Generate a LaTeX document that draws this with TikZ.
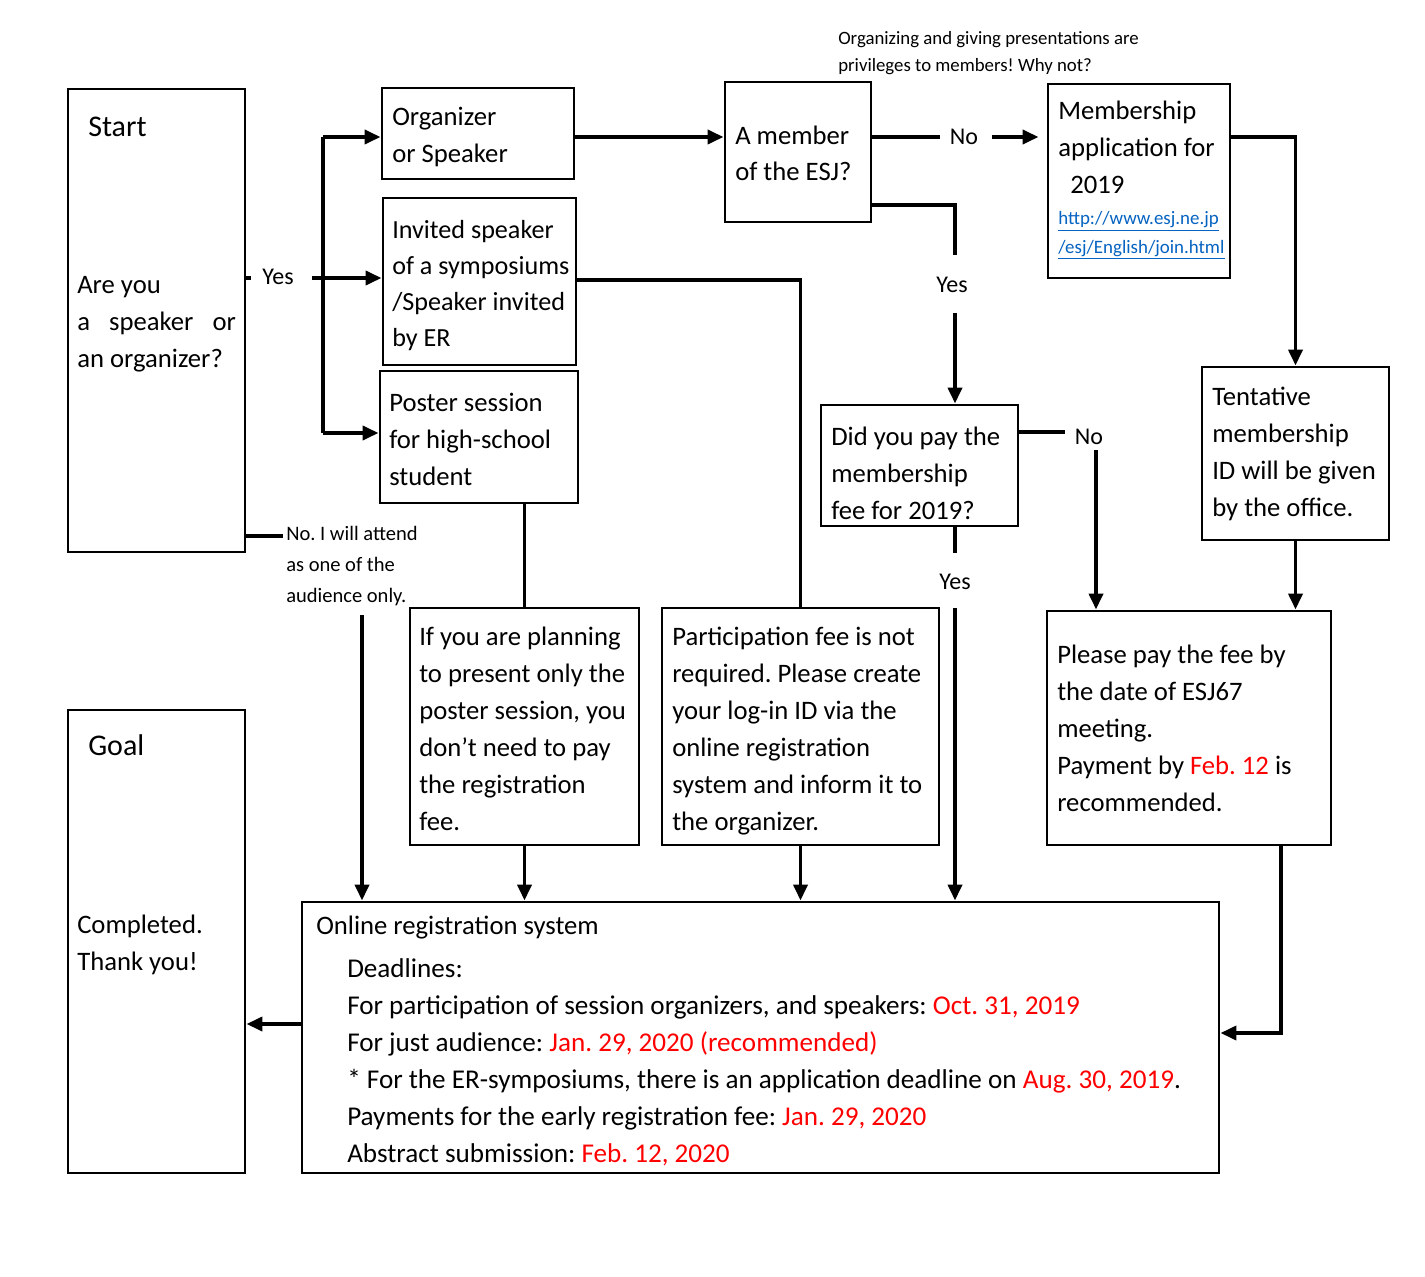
\documentclass[tikz,border=0pt]{standalone}
\usepackage{fontspec}
\setmainfont{Carlito}
\usetikzlibrary{arrows.meta,fit}
\definecolor{lnk}{RGB}{5,99,193}
\definecolor{rd}{RGB}{255,0,0}
\newcommand\myfs[2]{\fontsize{#1}{#2}\selectfont}
\frenchspacing
\begin{document}
\begin{tikzpicture}[x=0.75pt,y=-0.75pt,
  box/.style={draw,line width=2.2pt,inner sep=0pt},
  ln/.style={line width=2.8pt},
  arr/.style={line width=2.8pt,-{Triangle[length=12pt,width=10.5pt]}},
  txt/.style={inner sep=0pt,anchor=base west,align=left,font=\frenchspacing\myfs{20}{27.75}},
  big/.style={inner sep=0pt,anchor=base west,font=\myfs{22.5}{28}},
  lab/.style={inner sep=0pt,font=\myfs{18}{22}},
  small/.style={inner sep=0pt,anchor=base west,align=left,font=\frenchspacing\myfs{15.4}{23.25}},
  note/.style={inner sep=0pt,anchor=base west,align=left,font=\frenchspacing\myfs{14.1}{20.25}},
]
\fill[white] (0,0) rectangle (1425,1277);
\useasboundingbox (0,0) rectangle (1425,1277);

% boxes
\node[box,fit={(68,89)(245,552)}] (start) {};
\node[box,fit={(68,710)(245,1173)}] (goal) {};
\node[box,fit={(382,88)(574,179)}] (org) {};
\node[box,fit={(383,198)(576,365)}] (inv) {};
\node[box,fit={(380,371)(578,503)}] (poster) {};
\node[box,fit={(725,82)(871,222)}] (member) {};
\node[box,fit={(1048,84)(1230,278)}] (memb) {};
\node[box,fit={(821,405)(1018,526)}] (didpay) {};
\node[box,fit={(1202,367)(1389,540)}] (tent) {};
\node[box,fit={(410,608)(639,845)}] (ifyou) {};
\node[box,fit={(662,608)(939,845)}] (part) {};
\node[box,fit={(1047,611)(1331,845)}] (pay) {};
\node[box,fit={(302,902)(1219,1173)}] (online) {};

% texts (anchored at the baseline of the last line)
\node[big] (startT) at (88,137) {Start};
\node[txt] (startQ) at (77,367) {Are you\\\makebox[119pt][s]{a speaker or}\\an organizer?};
\node[big] (goalT) at (88,755) {Goal};
\node[txt] (goalQ) at (77,970) {Completed.\\Thank you!};
\node[txt] (orgT) at (392,163) {Organizer\\or Speaker};
\node[txt,font=\frenchspacing\myfs{19.6}{27}] (invT) at (392,346) {Invited speaker\\of a symposiums\\/Speaker invited\\by ER};
\node[txt] (posterT) at (389,485) {Poster session\\for high-school\\student};
\node[txt] (memberT) at (735,181) {A member\\of the ESJ?};
\node[txt] (membT) at (1058,194) {Membership\\application for\\\hspace*{9pt}2019};
\node[note,font=\frenchspacing\myfs{14.2}{21},text=lnk] (link) at (1058,253) {\underline{http://www.esj.ne.jp}\\\underline{/esj/English/join.html}};
\node[note] (noteT) at (838,72) {Organizing and giving presentations are\\privileges to members! Why not?};
\node[txt] (didT) at (831,519) {Did you pay the\\membership\\fee for 2019?};
\node[txt] (tentT) at (1212,516) {Tentative\\membership\\ID will be given\\by the office.};
\node[txt] (ifT) at (419,830) {If you are planning\\to present only the\\poster session, you\\don’t need to pay\\the registration\\fee.};
\node[txt] (partT) at (672,830) {Participation fee is not\\required. Please create\\your log-in ID via the\\online registration\\system and inform it to\\the organizer.};
\node[txt] (payT) at (1057,811) {Please pay the fee by\\the date of ESJ67\\meeting.\\Payment by \textcolor{rd}{Feb. 12} is\\recommended.};
\node[txt] (onT) at (316,934) {Online registration system};
\node[txt,font=\frenchspacing\myfs{20.35}{27.7}] (onL) at (347,1162) {Deadlines:\\For participation of session organizers, and speakers: \textcolor{rd}{Oct. 31, 2019}\\For just audience: \textcolor{rd}{Jan. 29, 2020 (recommended)}\\* For the ER-symposiums, there is an application deadline on \textcolor{rd}{Aug. 30, 2019}.\\Payments for the early registration fee: \textcolor{rd}{Jan. 29, 2020}\\Abstract submission: \textcolor{rd}{Feb. 12, 2020}};

% labels
\node[lab] (yes1) at (278,277) {Yes};
\node[small] (noAtt) at (286,602) {No. I will attend\\as one of the\\audience only.};
\node[lab] (no1) at (964,137) {No};
\node[lab] (yes2) at (952,285) {Yes};
\node[lab] (no2) at (1089,437) {No};
\node[lab] (yes3) at (955,582) {Yes};

% coordinates
\coordinate (t1) at (323,137);
\coordinate (t2) at (323,433);
\coordinate (t3) at (312,278);
\coordinate (ys) at (251,278);
\coordinate (na) at (283,536);
\coordinate (na2) at (362,615);
\coordinate (m1) at (0,137);
\coordinate (n1a) at (940,137);
\coordinate (n1b) at (992,137);
\coordinate (y2a) at (955,205);
\coordinate (y2b) at (955,255);
\coordinate (y2c) at (955,313);
\coordinate (n2a) at (1065,432);
\coordinate (n2b) at (1096,450);
\coordinate (y3a) at (955,553);
\coordinate (y3b) at (955,608);
\coordinate (p1) at (1281,1033);
\coordinate (ip) at (0,280);
\coordinate (og) at (0,1024);

% connectors
\draw[ln] (start.east |- ys) -- (ys);
\draw[arr] (t3) -- (inv.west |- t3);
\draw[ln] (t1) -- (t2);
\draw[arr] (t1) -- (org.west |- t1);
\draw[arr] (t2) -- (poster.west |- t2);
\draw[ln] (start.east |- na) -- (na);
\draw[arr] (na2) -- (na2 |- online.north);
\draw[arr] (org.east |- m1) -- (member.west |- m1);
\draw[ln] (member.east |- m1) -- (n1a);
\draw[arr,shorten >=6pt] (n1b) -- (memb.west |- n1b);
\draw[ln] (member.east |- y2a) -- (y2a) -- (y2b);
\draw[arr] (y2c) -- (y2c |- didpay.north);
\draw[arr] (memb.east |- m1) -| (tent.north);
\draw[ln] (didpay.east |- n2a) -- (n2a);
\draw[arr] (n2b) -- (n2b |- pay.north);
\draw[ln] (didpay.south -| y3a) -- (y3a);
\draw[arr] (y3b) -- (y3b |- online.north);
\draw[arr] (tent.south) -- (tent.south |- pay.north);
\draw[arr] (pay.south -| p1) |- (online.east |- p1);
\draw[ln] (inv.east |- ip) -| (part.north);
\draw[ln] (poster.south -| ifyou.north) -- (ifyou.north);
\draw[arr] (ifyou.south) -- (ifyou.south |- online.north);
\draw[arr] (part.south) -- (part.south |- online.north);
\draw[arr] (online.west |- og) -- (goal.east |- og);
\end{tikzpicture}
\end{document}
